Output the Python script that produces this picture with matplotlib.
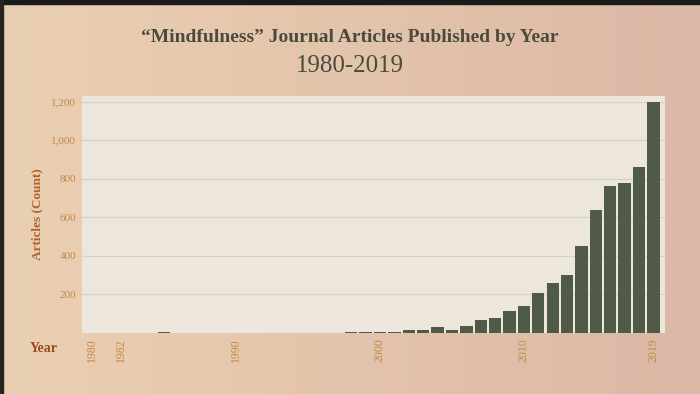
import numpy as np
import matplotlib.pyplot as plt
from matplotlib.patches import Rectangle

# data
years = list(range(1980, 2020))
articles = [1, 1, 1, 1, 1, 3, 1, 1, 1, 1,
            1, 1, 1, 1, 2, 2, 2, 2, 4, 4,
            5, 5, 15, 13, 30, 16, 36, 67, 76, 112,
            138, 207, 257, 300, 452, 639, 763, 779, 862, 1200]
year_ticks = [1980, 1982, 1990, 2000, 2010, 2019]
count_ticks = [200, 400, 600, 800, 1000, 1200]

serif = ['Liberation Serif', 'DejaVu Serif']
plt.rcParams['font.family'] = serif

fig = plt.figure(figsize=(7, 3.94), dpi=100)

# warm gradient background
bg = fig.add_axes([0, 0, 1, 1], zorder=-10)
grad = np.linspace(0, 1, 256)
c0 = np.array([234, 208, 178]) / 255
c1 = np.array([220, 184, 166]) / 255
img = c0[None, :, None] * (1 - grad)[None, None, :] + c1[None, :, None] * grad[None, None, :]
img = np.transpose(img, (0, 2, 1)).repeat(2, axis=0)
bg.imshow(img, aspect='auto', extent=[0, 1, 0, 1])
bg.set_xlim(0, 1)
bg.set_ylim(0, 1)
bg.axis('off')
# dark edges of the screen grab
bg.add_patch(Rectangle((0, 0.99), 1, 0.01, color='#1a1a1a'))
bg.add_patch(Rectangle((0, 0), 0.004, 1, color='#2a2420'))

ax = fig.add_axes([0.117, 0.155, 0.833, 0.601])
ax.set_facecolor('#ece6dd')
ax.bar(years, articles, width=0.86, color='#4f5a47', zorder=3)
ax.set_xlim(1979.3, 2019.8)
ax.set_ylim(0, 1228)

ax.set_yticks(count_ticks)
ax.set_yticklabels([f'{v:,}' for v in count_ticks])
ax.set_xticks(year_ticks)
ax.set_xticklabels([str(y) for y in year_ticks], rotation=90)
ax.tick_params(axis='both', length=0, labelcolor='#c4884a')
ax.tick_params(axis='y', pad=4, labelsize=8)
ax.tick_params(axis='x', pad=4, labelsize=8.5)
ax.grid(axis='y', color='#d6d0c6', linewidth=0.8, zorder=0)
for s in ax.spines.values():
    s.set_visible(False)

ax.set_ylabel('Articles (Count)', color='#b0622a', fontsize=9.5,
              fontweight='bold', labelpad=6)
fig.text(0.062, 0.115, 'Year', color='#9c4a1e', fontsize=10,
         fontweight='bold', ha='center', va='center')

fig.text(0.5, 0.905, '\u201cMindfulness\u201d Journal Articles Published by Year',
         ha='center', va='center', fontsize=14, fontweight='bold', color='#4b4b3c')
fig.text(0.5, 0.832, '1980-2019', ha='center', va='center',
         fontsize=18, color='#4b4b3c')

fig.savefig('out.png', dpi=100)
